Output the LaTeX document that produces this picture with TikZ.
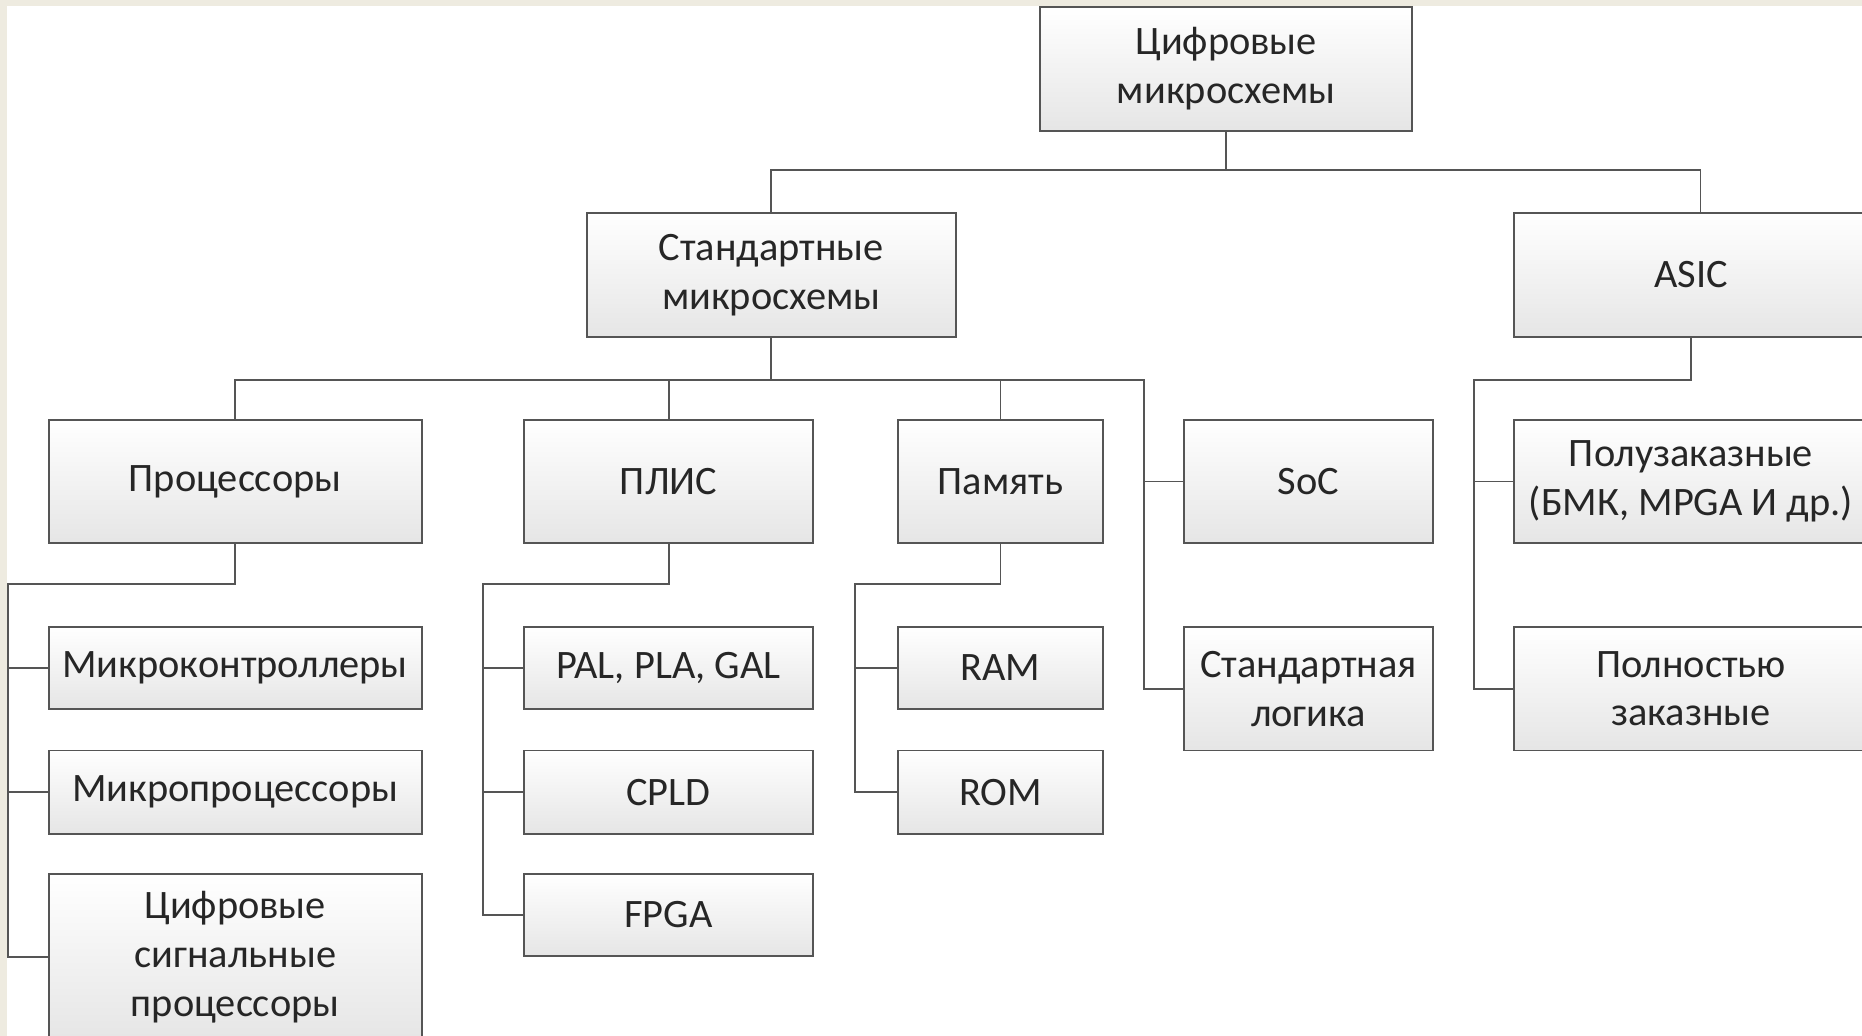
\documentclass[tikz,border=0pt]{standalone}
\usepackage{fontspec}
\setmainfont{Carlito}
\definecolor{pagebeige}{RGB}{238,235,224}
\definecolor{boxline}{RGB}{85,85,85}
\definecolor{boxtext}{RGB}{38,38,38}
\begin{document}
\begin{tikzpicture}[x=0.5pt, y=-0.5pt,
        chipbox/.style={draw=boxline, line width=0.8pt, top color=white, bottom color=black!10,
            align=center, text=boxtext, inner sep=0pt,
            font=\fontsize{17}{20.5}\selectfont},
        link/.style={draw=boxline, line width=0.8pt}]
                \useasboundingbox (0, 0) rectangle (1568, 872);
                \fill[pagebeige] (0, 0) rectangle (1568, 872);
                \fill[white] (6, 5) rectangle (1568, 872);

                \node[chipbox, minimum width=156.5pt, minimum height=52pt] (top) at (1032.5, 58) {Цифровые\\микросхемы};
                \node[chipbox, minimum width=155.5pt, minimum height=52.5pt] (std) at (649.5, 231.5) {Стандартные\\микросхемы};
                \node[chipbox, minimum width=149pt, minimum height=52.5pt] (asic) at (1424, 231.5) {ASIC};

                \node[chipbox, minimum width=157pt, minimum height=51.5pt] (proc) at (198, 405.5) {Процессоры};
                \node[chipbox, minimum width=122pt, minimum height=51.5pt] (plis) at (563, 405.5) {ПЛИС};
                \node[chipbox, minimum width=86.5pt, minimum height=51.5pt] (mem) at (842.5, 405.5) {Память};
                \node[chipbox, minimum width=105pt, minimum height=51.5pt] (soc) at (1102, 405.5) {SoC};
                \node[chipbox, minimum width=149pt, minimum height=51.5pt] (semi) at (1424, 405.5) {Полузаказные\\(БМК, MPGA И др.)};

                \node[chipbox, minimum width=157pt, minimum height=34.5pt] (mcu) at (198, 562.5) {Микроконтроллеры};
                \node[chipbox, minimum width=157pt, minimum height=35pt] (mpu) at (198, 667) {Микропроцессоры};
                \node[chipbox, minimum width=157pt, minimum height=70pt] (dsp) at (198, 806) {Цифровые\\сигнальные\\процессоры};

                \node[chipbox, minimum width=122pt, minimum height=34.5pt] (pal) at (563, 562.5) {PAL, PLA, GAL};
                \node[chipbox, minimum width=122pt, minimum height=35pt] (cpld) at (563, 667) {CPLD};
                \node[chipbox, minimum width=122pt, minimum height=34.5pt] (fpga) at (563, 770.5) {FPGA};

                \node[chipbox, minimum width=86.5pt, minimum height=34.5pt] (ram) at (842.5, 562.5) {RAM};
                \node[chipbox, minimum width=86.5pt, minimum height=35pt] (rom) at (842.5, 667) {ROM};

                \node[chipbox, minimum width=105pt, minimum height=52pt] (logic) at (1102, 580) {Стандартная\\логика};
                \node[chipbox, minimum width=149pt, minimum height=52pt] (full) at (1424, 580) {Полностью\\заказные};

                \coordinate (j1) at (1032.5, 143);
                \coordinate (j2) at (649.5, 320);
                \coordinate (b2) at (963, 320);
                \coordinate (b3) at (7, 492);
                \coordinate (b4) at (1241, 320);
                \coordinate (b5) at (407, 492);
                \coordinate (b6) at (720, 492);

                \draw[link] (top.south) -- (j1) -| (std.north);
                \draw[link] (j1) -| ([xshift=4pt]asic.north);

                \draw[link] (std.south) -- (j2) -| (proc.north);
                \draw[link] (j2) -| (plis.north);
                \draw[link] (j2) -| (mem.north);
                \draw[link] (j2) -- (b2) |- (soc.west);
                \draw[link] (b2) |- (logic.west);

                \draw[link] (asic.south) |- (b4) |- (semi.west);
                \draw[link] (b4) |- (full.west);

                \draw[link] (proc.south) |- (b3) |- (mcu.west);
                \draw[link] (b3) |- (mpu.west);
                \draw[link] (b3) |- (dsp.west);

                \draw[link] (plis.south) |- (b5) |- (pal.west);
                \draw[link] (b5) |- (cpld.west);
                \draw[link] (b5) |- (fpga.west);

                \draw[link] (mem.south) |- (b6) |- (ram.west);
                \draw[link] (b6) |- (rom.west);
            \end{tikzpicture}
\end{document}
